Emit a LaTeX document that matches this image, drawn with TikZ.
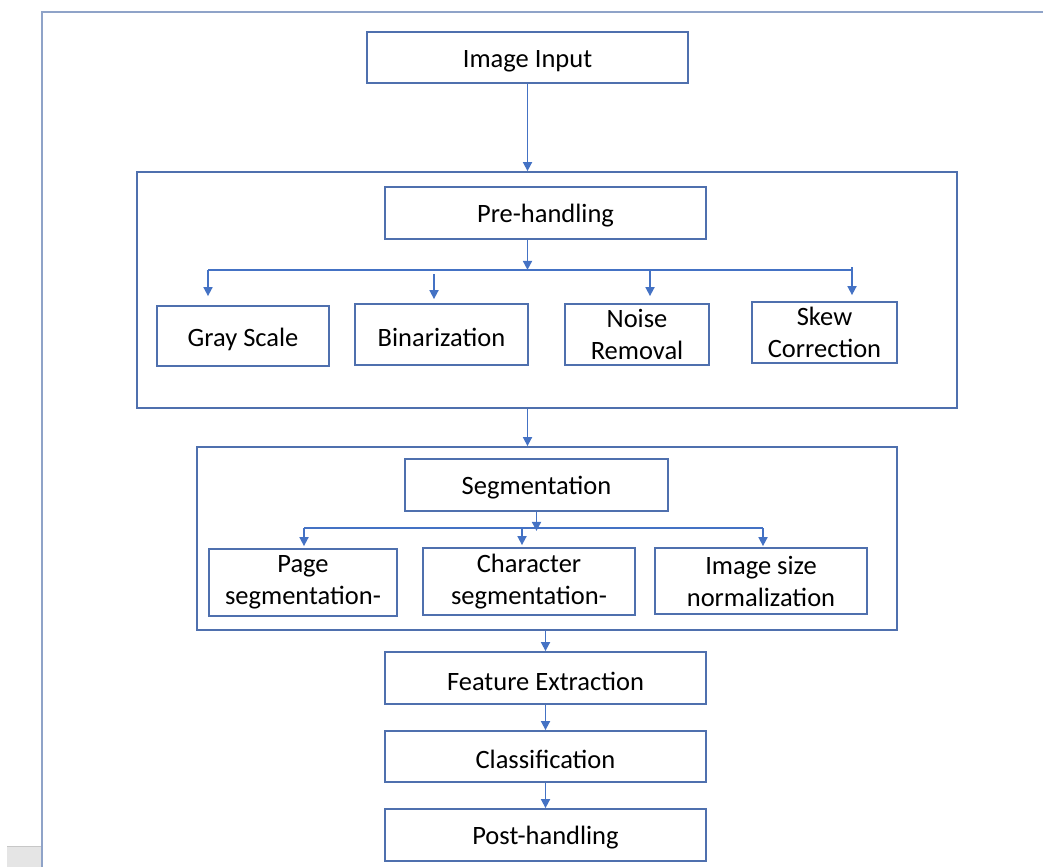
\documentclass[tikz,border=0pt]{standalone}
\usepackage{fontspec}
\setmainfont{Carlito}
\usetikzlibrary{arrows.meta}
\definecolor{boxblue}{HTML}{4F70AE}
\definecolor{arrblue}{HTML}{4472C4}
\definecolor{frameblue}{HTML}{8FA3C8}
\begin{document}
\begin{tikzpicture}[x=1pt,y=-1pt,
  box/.style={draw=boxblue,line width=1.8pt,inner sep=0pt,align=center,
    font=\fontsize{26.5}{32}\selectfont,text=black},
  oneline/.style={box,text height=24.5pt},
  cont/.style={draw=boxblue,line width=1.8pt,inner sep=0pt},
  arr/.style={draw=arrblue,line width=1.7pt,-{Triangle[width=9pt,length=9pt]}},
  ln/.style={draw=arrblue,line width=1.7pt}]
\useasboundingbox (0,0) rectangle (1043,867);
\fill[white] (0,0) rectangle (1043,867);
% page frame
\draw[frameblue,line width=1.8pt] (42,867) -- (42,12) -- (1043,12);
\fill[black!10] (7,846) rectangle (41,867);
\draw[black!22,line width=1pt] (7,846) -- (41,846);
% containers
\node[cont,minimum width=820pt,minimum height=236pt] (prebox) at (547,290) {};
\node[cont,minimum width=700pt,minimum height=183pt] (segbox) at (547,538.5) {};
% boxes
\node[oneline,minimum width=321pt,minimum height=51pt] (img) at (527.5,57.5) {Image Input};
\node[oneline,minimum width=321pt,minimum height=52pt] (pre) at (545.5,213) {Pre-handling};
\node[oneline,minimum width=172pt,minimum height=60pt] (gs) at (243,336) {Gray Scale};
\node[oneline,minimum width=173pt,minimum height=61pt] (bin) at (441.5,334.5) {Binarization};
\node[box,minimum width=144pt,minimum height=61pt] (noise) at (637,334.5) {Noise\\Removal};
\node[box,minimum width=145pt,minimum height=61pt] (skew) at (824.5,332.5) {Skew\\Correction};
\node[oneline,minimum width=263pt,minimum height=52pt] (seg) at (536.5,485) {Segmentation};
\node[box,minimum width=188pt,minimum height=67pt] (page) at (303,582.5) {Page\\segmentation-};
\node[box,minimum width=212pt,minimum height=67pt] (char) at (529,581.5) {Character\\segmentation-};
\node[box,minimum width=212pt,minimum height=66pt] (isn) at (761,581) {Image size\\normalization};
\node[oneline,minimum width=321pt,minimum height=52pt] (feat) at (545.5,678) {Feature Extraction};
\node[oneline,minimum width=321pt,minimum height=51pt] (cls) at (545.5,756.5) {Classification};
\node[oneline,minimum width=321pt,minimum height=52pt] (post) at (545.5,835) {Post-handling};
% branch coordinates
\coordinate (pl) at (208,270);
\coordinate (pr) at (852,270);
\coordinate (pb) at (434,274);
\coordinate (pn) at (650,270);
\coordinate (sl) at (304,528);
\coordinate (sr) at (763,528);
\coordinate (sc) at (522,528);
% connectors
\draw[arr] (img.south) -- (img.south |- prebox.north);
\draw[arr] (pre.south -| img.south) -- ++(0,30);
\draw[ln] (pl) -- (pr);
\draw[arr] (pl) -- ([yshift=9pt]pl |- gs.north);
\draw[arr] (pb) -- ([yshift=4pt]pb |- bin.north);
\draw[arr] (pn) -- ([yshift=7pt]pn |- noise.north);
\draw[ln] (pr) -- ++(0,-3);
\draw[arr] (pr) -- ([yshift=6pt]pr |- skew.north);
\draw[arr] (prebox.south -| img.south) -- (segbox.north -| img.south);
\draw[arr] (seg.south) -- ++(0,19);
\draw[ln] (sl) -- (sr);
\draw[arr] (sl) -- ([yshift=2pt]sl |- page.north);
\draw[arr] (sc) -- ([yshift=2pt]sc |- char.north);
\draw[arr] (sr) -- ([yshift=1pt]sr |- isn.north);
\draw[arr] (segbox.south -| feat.north) -- (feat.north);
\draw[arr] (feat.south) -- (cls.north);
\draw[arr] (cls.south) -- (post.north);
\end{tikzpicture}
\end{document}
